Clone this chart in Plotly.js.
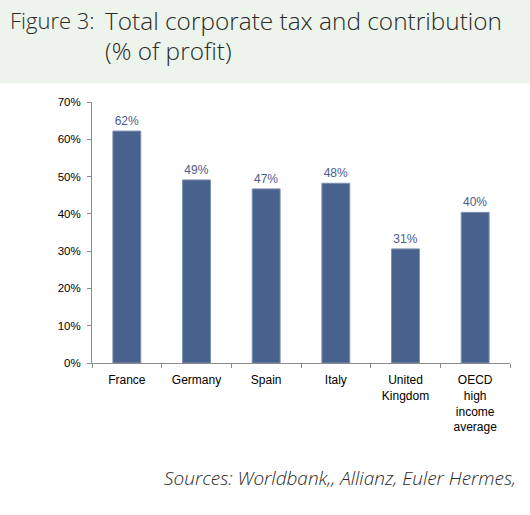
<!DOCTYPE html>
<html>
<head>
<meta charset="utf-8">
<script src="https://cdn.plot.ly/plotly-3.0.1.min.js"></script>
<style>html,body{margin:0;padding:0;background:#fff;}#chart{width:530px;height:515px;}</style>
</head>
<body>
<div id="chart"></div>
<script>
const categories = ["France", "Germany", "Spain", "Italy", "United<br>Kingdom", "OECD<br>high<br>income<br>average"];
const values = [62.2, 49.1, 46.7, 48.2, 30.6, 40.4];
const yTickVals = [0, 10, 20, 30, 40, 50, 60, 70];
const yTickLabels = ["0%", "10%", "20%", "30%", "40%", "50%", "60%", "70%"];
const titleLine1 = "Total corporate tax and contribution";
const titleLine2 = "(% of profit)";
const figureLabel = "Figure 3:";
const sourceText = "Sources: Worldbank,, Allianz, Euler Hermes,";

const trace = {
  type: "bar",
  x: categories,
  y: values,
  width: 0.4,
  marker: {color: "#48618d", line: {color: "#7d8fb0", width: 1}},
  text: values.map(v => Math.round(v) + "%"),
  textposition: "outside",
  textfont: {family: "Liberation Sans, Arial, sans-serif", size: 12, color: "#4d5a8c"},
  cliponaxis: false,
  hoverinfo: "none"
};

const layout = {
  width: 530, height: 515,
  margin: {l: 92, r: 20, t: 102, b: 152},
  paper_bgcolor: "#ffffff", plot_bgcolor: "#ffffff",
  showlegend: false,
  font: {family: "Liberation Sans, Arial, sans-serif", color: "#000"},
  xaxis: {
    type: "category",
    showline: true, linecolor: "#8c8c8c", linewidth: 1,
    ticks: "outside", tickson: "boundaries", ticklen: 4, tickcolor: "#8c8c8c",
    tickfont: {size: 12, color: "#000"},
    ticklabelstandoff: 6,
    tickangle: 0,
    showgrid: false, zeroline: false
  },
  yaxis: {
    range: [0, 70], tickmode: "array", tickvals: yTickVals, ticktext: yTickLabels,
    showline: true, linecolor: "#8c8c8c", linewidth: 1,
    ticks: "outside", ticklen: 4, tickcolor: "#8c8c8c",
    tickfont: {size: 11.5, color: "#000"},
    ticklabelstandoff: 4,
    showgrid: false, zeroline: false
  },
  shapes: [{
    type: "rect", xref: "paper", yref: "paper",
    x0: -0.3, x1: 1.1, y0: 1.073, y1: 1.5,
    fillcolor: "#edf4ec", line: {width: 0}, layer: "below"
  }],
  annotations: [
    {text: figureLabel, xref: "paper", yref: "paper", x: -0.201, y: 1.314, xanchor: "left", yanchor: "middle", showarrow: false, font: {family: "Open Sans, sans-serif", size: 22, weight: 300, color: "#2a2a2a"}},
    {text: titleLine1, xref: "paper", yref: "paper", x: 0.0263, y: 1.314, xanchor: "left", yanchor: "middle", showarrow: false, font: {family: "Open Sans, sans-serif", size: 24.4, weight: 300, color: "#2a2a2a"}},
    {text: titleLine2, xref: "paper", yref: "paper", x: 0.0263, y: 1.199, xanchor: "left", yanchor: "middle", showarrow: false, font: {family: "Open Sans, sans-serif", size: 24.4, weight: 300, color: "#2a2a2a"}},
    {text: "<i>" + sourceText + "</i>", xref: "paper", yref: "paper", x: 1.019, y: -0.44, xanchor: "right", yanchor: "middle", showarrow: false, font: {family: "Open Sans, sans-serif", size: 19, weight: 300, color: "#2a2a2a"}}
  ]
};

Plotly.newPlot("chart", [trace], layout, {staticPlot: true, displayModeBar: false});
</script>
</body>
</html>
